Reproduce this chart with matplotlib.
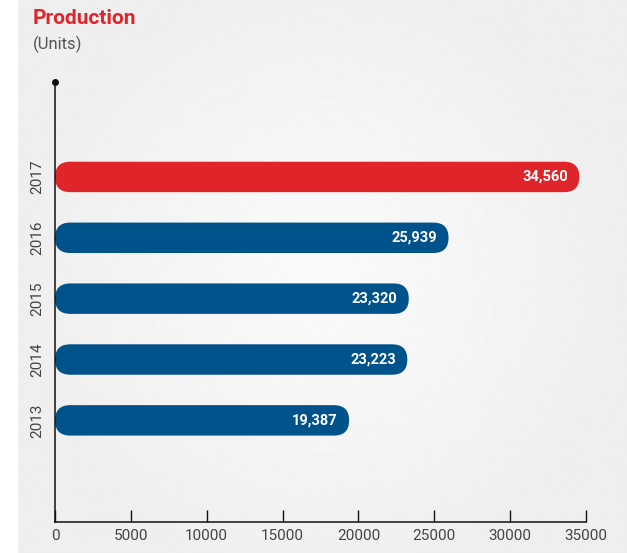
import numpy as np
import matplotlib.pyplot as plt
from matplotlib.patches import FancyBboxPatch

# data
years = ['2013', '2014', '2015', '2016', '2017']
units = [19387, 23223, 23320, 25939, 34560]
bar_colors = ['#00528a', '#00528a', '#00528a', '#00528a', '#e0252a']
xticks = [0, 5000, 10000, 15000, 20000, 25000, 30000, 35000]

plt.rcParams['font.family'] = ['Roboto', 'DejaVu Sans']

fig = plt.figure(figsize=(6.27, 5.53), dpi=100)

# grey panel with a soft light centre
bg = fig.add_axes([18 / 627, 0, 1 - 18 / 627, 1], zorder=-5)
gx, gy = np.meshgrid(np.linspace(-1, 1, 300), np.linspace(-1, 1, 300))
r = np.sqrt((gx * 1.0) ** 2 + (gy * 0.9) ** 2)
bg.imshow(0.98 - 0.045 * np.clip(r, 0, 1.0) ** 1.2, cmap='gray', vmin=0, vmax=1,
          aspect='auto', extent=[0, 1, 0, 1])
bg.axis('off')

ax = fig.add_axes([55 / 627, 31 / 553, (586 - 55) / 627, (522 - 82) / 553])
ax.patch.set_alpha(0)

y = np.arange(len(years))
bars = ax.barh(y, units, height=0.5, color=bar_colors)
ax.set_xlim(0, 35000)
ax.set_ylim(-1.67, 5.56)

# swap the plain bars for pill shaped ones
fig.canvas.draw()
px_x = ax.transData.transform((1000, 0))[0] - ax.transData.transform((0, 0))[0]
px_y = ax.transData.transform((0, 1))[1] - ax.transData.transform((0, 0))[1]
aspect = (px_x / 1000) / px_y
for b in bars:
    h = b.get_height()
    rad = h / 2 / aspect
    p = FancyBboxPatch((b.get_x(), b.get_y()), b.get_width(), h,
                       boxstyle='round,pad=0,rounding_size=%f' % rad,
                       mutation_aspect=aspect, facecolor=b.get_facecolor(),
                       edgecolor='none', zorder=2)
    ax.add_patch(p)
    b.remove()

for yi, v in zip(y, units):
    ax.text(v - 750, yi, f'{v:,}', ha='right', va='center', color='white',
            fontsize=10.5, fontweight='semibold', zorder=3)

for s in ['top', 'right']:
    ax.spines[s].set_visible(False)
ax.spines['left'].set_color('#111111')
ax.spines['bottom'].set_color('#111111')
ax.spines['left'].set_linewidth(1.1)
ax.spines['bottom'].set_linewidth(1.1)
ax.plot([0], [5.56], 'o', color='#111111', markersize=4, clip_on=False, zorder=4)

ax.set_xticks(xticks)
ax.set_xticklabels([str(t) for t in xticks])
ax.tick_params(axis='x', direction='in', length=9, width=1, color='#111111',
               labelsize=11, labelcolor='#444444', pad=5)
ax.set_yticks(y)
ax.set_yticklabels(years, rotation=90, va='center')
ax.tick_params(axis='y', length=0, labelsize=11, labelcolor='#444444', pad=8)

fig.text(33 / 627, 1 - 18 / 553, 'Production', color='#e0252a', fontsize=15,
         fontweight='bold', ha='left', va='center')
fig.text(33 / 627, 1 - 44 / 553, '(Units)', color='#555555', fontsize=12,
         ha='left', va='center')

fig.savefig('out.png', dpi=100)
